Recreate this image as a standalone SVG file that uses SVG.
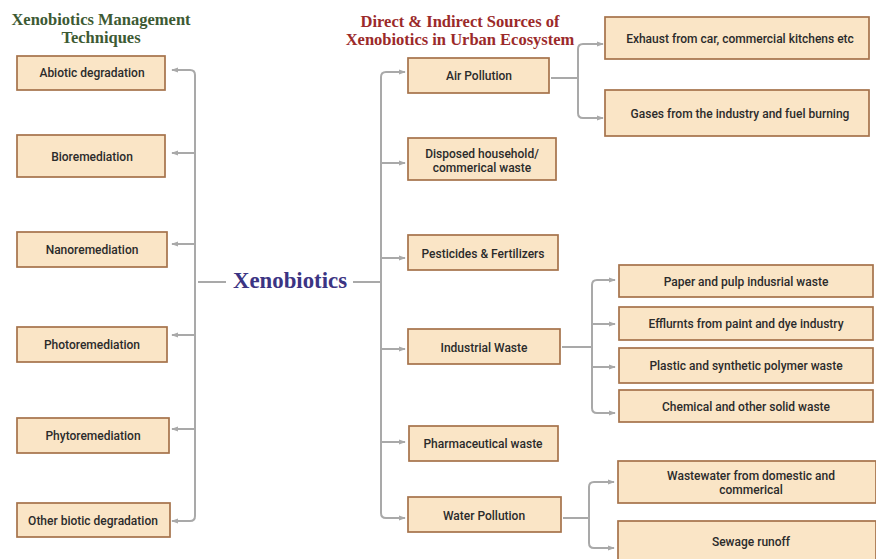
<svg xmlns="http://www.w3.org/2000/svg" width="876" height="559" viewBox="0 0 876 559">
  <style>
    .box { fill: #fae5c6; stroke: #a5724a; stroke-width: 1.7; }
    .lbl { font-family: Roboto, "Liberation Sans", Arial, sans-serif; font-size: 12px; font-weight: 500; fill: #2b2b2b; text-anchor: middle; dominant-baseline: central; }
    .wire { fill: none; stroke: #a9a9a9; stroke-width: 2; }
    .head { font-family: "Liberation Serif", "Times New Roman", serif; font-weight: bold; font-size: 16.5px; text-anchor: middle; }
  </style>
  <defs>
    <marker id="arr" viewBox="0 0 8 8" refX="7" refY="4" markerWidth="7" markerHeight="7" markerUnits="userSpaceOnUse" orient="auto">
      <path d="M0,1 L8,4 L0,7 Z" fill="#a9a9a9"/>
    </marker>
  </defs>
  <rect width="876" height="559" fill="#ffffff"/>

  <!-- headings -->
  <g id="heading-left">
    <text class="head" x="101" y="25" fill="#3d5a33">Xenobiotics Management</text>
    <text class="head" x="101" y="43" fill="#3d5a33">Techniques</text>
  </g>
  <g id="heading-right">
    <text class="head" x="460" y="27" fill="#9b2a2a">Direct &amp; Indirect Sources of</text>
    <text class="head" x="460" y="45" fill="#9b2a2a">Xenobiotics in Urban Ecosystem</text>
  </g>

  <!-- connectors -->
  <g id="connectors">
    <!-- central hub to both brackets -->
    <line class="wire" x1="198" y1="282" x2="226" y2="282"/>
    <line class="wire" x1="353" y1="282" x2="381" y2="282"/>
    <!-- left bracket -->
    <path class="wire" d="M195,75 Q195,70 190,70 H172" marker-end="url(#arr)"/>
    <line class="wire" x1="195" y1="75" x2="195" y2="516"/>
    <path class="wire" d="M195,516 Q195,521 190,521 H172" marker-end="url(#arr)"/>
    <line class="wire" x1="195" y1="153" x2="172" y2="153" marker-end="url(#arr)"/>
    <line class="wire" x1="195" y1="244" x2="172" y2="244" marker-end="url(#arr)"/>
    <line class="wire" x1="195" y1="335" x2="172" y2="335" marker-end="url(#arr)"/>
    <line class="wire" x1="195" y1="429" x2="172" y2="429" marker-end="url(#arr)"/>
    <!-- right bracket -->
    <path class="wire" d="M381,77 Q381,72 386,72 H405" marker-end="url(#arr)"/>
    <line class="wire" x1="381" y1="77" x2="381" y2="513"/>
    <path class="wire" d="M381,513 Q381,518 386,518 H405" marker-end="url(#arr)"/>
    <line class="wire" x1="381" y1="163" x2="405" y2="163" marker-end="url(#arr)"/>
    <line class="wire" x1="381" y1="258" x2="405" y2="258" marker-end="url(#arr)"/>
    <line class="wire" x1="381" y1="349" x2="405" y2="349" marker-end="url(#arr)"/>
    <line class="wire" x1="381" y1="442" x2="405" y2="442" marker-end="url(#arr)"/>
    <!-- air pollution branches -->
    <line class="wire" x1="551" y1="78" x2="578" y2="78"/>
    <path class="wire" d="M578,78 V49 Q578,44 583,44 H603" marker-end="url(#arr)"/>
    <path class="wire" d="M578,78 V113 Q578,118 583,118 H603" marker-end="url(#arr)"/>
    <!-- industrial waste branches -->
    <line class="wire" x1="562" y1="347" x2="592" y2="347"/>
    <path class="wire" d="M592,347 V285 Q592,280 597,280 H615" marker-end="url(#arr)"/>
    <path class="wire" d="M592,347 V408 Q592,413 597,413 H615" marker-end="url(#arr)"/>
    <line class="wire" x1="592" y1="324" x2="615" y2="324" marker-end="url(#arr)"/>
    <line class="wire" x1="592" y1="367" x2="615" y2="367" marker-end="url(#arr)"/>
    <!-- water pollution branches -->
    <line class="wire" x1="563" y1="518" x2="589" y2="518"/>
    <path class="wire" d="M589,518 V487 Q589,482 594,482 H614" marker-end="url(#arr)"/>
    <path class="wire" d="M589,518 V543 Q589,548 594,548 H614" marker-end="url(#arr)"/>
  </g>

  <!-- central node -->
  <g id="xenobiotics">
    <text x="290" y="288" font-family="'Liberation Serif', 'Times New Roman', serif" font-size="23" font-weight="bold" fill="#3b3483" text-anchor="middle" textLength="114" lengthAdjust="spacingAndGlyphs">Xenobiotics</text>
  </g>

  <!-- management techniques -->
  <g id="abiotic-degradation">
    <rect class="box" x="17" y="56" width="148" height="34"/>
    <text class="lbl" x="92" y="73">Abiotic degradation</text>
  </g>
  <g id="bioremediation">
    <rect class="box" x="17" y="135" width="148" height="42"/>
    <text class="lbl" x="92" y="157">Bioremediation</text>
  </g>
  <g id="nanoremediation">
    <rect class="box" x="17" y="232" width="150" height="35"/>
    <text class="lbl" x="92" y="250">Nanoremediation</text>
  </g>
  <g id="photoremediation">
    <rect class="box" x="17" y="327" width="150" height="35"/>
    <text class="lbl" x="92" y="345">Photoremediation</text>
  </g>
  <g id="phytoremediation">
    <rect class="box" x="17" y="418" width="152" height="35"/>
    <text class="lbl" x="93" y="436">Phytoremediation</text>
  </g>
  <g id="other-biotic-degradation">
    <rect class="box" x="17" y="503" width="153" height="34"/>
    <text class="lbl" x="93" y="521">Other biotic degradation</text>
  </g>

  <!-- sources -->
  <g id="air-pollution">
    <rect class="box" x="408" y="58" width="141" height="35"/>
    <text class="lbl" x="479" y="76">Air Pollution</text>
  </g>
  <g id="household-waste">
    <rect class="box" x="408" y="138" width="148" height="42"/>
    <text class="lbl" x="482" y="154">Disposed household/</text>
    <text class="lbl" x="482" y="168">commerical waste</text>
  </g>
  <g id="pesticides">
    <rect class="box" x="408" y="235" width="150" height="35"/>
    <text class="lbl" x="483" y="254">Pesticides &amp; Fertilizers</text>
  </g>
  <g id="industrial-waste">
    <rect class="box" x="408" y="329" width="152" height="35"/>
    <text class="lbl" x="484" y="348">Industrial Waste</text>
  </g>
  <g id="pharmaceutical-waste">
    <rect class="box" x="409" y="426" width="149" height="35"/>
    <text class="lbl" x="483" y="444">Pharmaceutical waste</text>
  </g>
  <g id="water-pollution">
    <rect class="box" x="408" y="497" width="153" height="35"/>
    <text class="lbl" x="484" y="516">Water Pollution</text>
  </g>

  <!-- air pollution details -->
  <g id="exhaust">
    <rect class="box" x="605" y="17" width="264" height="42"/>
    <text class="lbl" x="740" y="39">Exhaust from car, commercial kitchens etc</text>
  </g>
  <g id="gases">
    <rect class="box" x="605" y="90" width="264" height="46"/>
    <text class="lbl" x="740" y="114">Gases from the industry and fuel burning</text>
  </g>

  <!-- industrial waste details -->
  <g id="paper-pulp">
    <rect class="box" x="619" y="265" width="254" height="32"/>
    <text class="lbl" x="746" y="282">Paper and pulp indusrial waste</text>
  </g>
  <g id="effluents">
    <rect class="box" x="619" y="307" width="254" height="33"/>
    <text class="lbl" x="746" y="324">Efflurnts from paint and dye industry</text>
  </g>
  <g id="plastic">
    <rect class="box" x="619" y="348" width="254" height="35"/>
    <text class="lbl" x="746" y="366">Plastic and synthetic polymer waste</text>
  </g>
  <g id="chemical">
    <rect class="box" x="619" y="390" width="254" height="32"/>
    <text class="lbl" x="746" y="407">Chemical and other solid waste</text>
  </g>

  <!-- water pollution details -->
  <g id="wastewater">
    <rect class="box" x="618" y="461" width="258" height="42"/>
    <text class="lbl" x="751" y="476">Wastewater from domestic and</text>
    <text class="lbl" x="751" y="490">commerical</text>
  </g>
  <g id="sewage">
    <rect class="box" x="618" y="521" width="258" height="44"/>
    <text class="lbl" x="751" y="542">Sewage runoff</text>
  </g>
</svg>
